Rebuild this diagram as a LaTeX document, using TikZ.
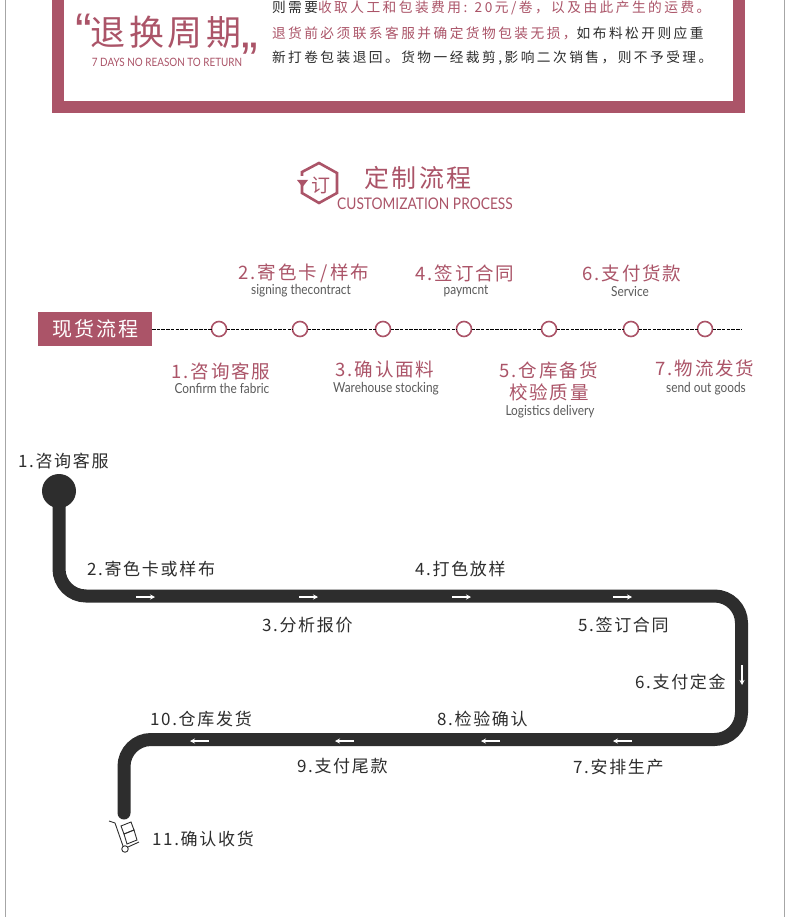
\documentclass[tikz,border=0pt]{standalone}
\usepackage{fontspec}
\usetikzlibrary{arrows.meta}
\newfontfamily\cjk[LetterSpace=10]{Noto Sans CJK SC}
\newfontfamily\cjkwide[LetterSpace=18]{Noto Sans CJK SC}
\newfontfamily\cjkplain{Noto Sans CJK SC}
\newfontfamily\latinfont[FakeStretch=0.86]{Lato}
\newfontfamily\quotefont{Liberation Sans}
\definecolor{rose}{HTML}{AB5468}
\definecolor{ink}{HTML}{2D2D2D}
\definecolor{softgrey}{HTML}{5A5A5A}
\newcommand{\zh}[1]{\fontsize{#1}{#1}\selectfont\cjk}
\newcommand{\en}[1]{\fontsize{#1}{#1}\selectfont\latinfont}
\begin{document}
\begin{tikzpicture}[
        x=1pt, y=-1pt,
        every node/.style={inner sep=0pt, outer sep=0pt},
        stepdot/.style={circle, draw=rose, line width=1.6pt, fill=white, minimum size=15pt},
        dashline/.style={dashed, dash pattern=on 3.5pt off 1.2pt, line width=0.8pt, black},
        stephead/.style={rose, font=\zh{18.5}},
        stepnote/.style={softgrey, font=\en{13.8}},
        flowlabel/.style={anchor=west, ink, font=\zh{17}},
        flowline/.style={ink, line width=13pt, rounded corners=27pt, line cap=round},
        whitearrow/.style={-{Stealth[length=5pt, width=5pt]}, white, line width=1.3pt},
        bodyline/.style={anchor=west, font=\fontsize{13.7}{13.7}\selectfont\cjkwide}
    ]
        \useasboundingbox (0,0) rectangle (790,917);
        \fill[white] (0,0) rectangle (790,917);
        \draw[gray!70, line width=1.5pt] (5.5,0) -- (5.5,917);
        \draw[gray!70, line width=1.5pt] (784.5,0) -- (784.5,917);

        % Return policy frame
        \fill[rose] (52,0) rectangle (745,113);
        \fill[white] (64,0) rectangle (733,101);
        \node[rose, font=\fontsize{50}{50}\selectfont\quotefont] (quoteopen) at (84,31) {“};
        \node[rose, font=\fontsize{35}{35}\selectfont\cjk] (cycle) at (166,32) {退换周期};
        \node[rose, font=\fontsize{50}{50}\selectfont\quotefont] (quoteclose) at (250,60) {”};
        \node[rose, font=\en{11.5}] (cyclenote) at (167,62) {7 DAYS NO REASON TO RETURN};
        \node[bodyline] (bodya) at (272,8) {\color{ink}则需要\color{rose}收取人工和包装费用: 20元/卷，以及由此产生的运费。};
        \node[bodyline] (bodyb) at (272,33) {\color{rose}退货前必须联系客服并确定货物包装无损，\color{ink}如布料松开则应重};
        \node[bodyline, ink] (bodyc) at (272,58) {新打卷包装退回。货物一经裁剪,影响二次销售，则不予受理。};

        % Title
        \draw[rose, line width=2.6pt, line join=miter] (302,176) -- (302,172) -- (319,163) -- (337,173) -- (337,193) -- (319,203) -- (302,193) -- (302,184);
        \fill[rose] (297,180) -- (308,180) -- (302.5,187) -- cycle;
        \node[rose, font=\fontsize{19}{19}\selectfont\cjkplain] (seal) at (321,185) {订};
        \node[rose, font=\zh{25}] (title) at (418,178) {定制流程};
        \node[rose, font=\en{16}] (subtitle) at (425,204) {CUSTOMIZATION PROCESS};

        % Stock process
        \node[fill=rose, text=white, minimum width=114pt, minimum height=34pt, font=\zh{20}] (stockbox) at (95,329) {现货流程};
        \node[stepdot] (dota) at (219,329) {};
        \node[stepdot] (dotb) at (300,329) {};
        \node[stepdot] (dotc) at (383,329) {};
        \node[stepdot] (dotd) at (464,329) {};
        \node[stepdot] (dote) at (549,329) {};
        \node[stepdot] (dotf) at (631,329) {};
        \node[stepdot] (dotg) at (705,329) {};
        \coordinate (stockend) at (741,329);
        \draw[dashline] (stockbox) -- (dota);
        \draw[dashline] (dota) -- (dotb);
        \draw[dashline] (dotb) -- (dotc);
        \draw[dashline] (dotc) -- (dotd);
        \draw[dashline] (dotd) -- (dote);
        \draw[dashline] (dote) -- (dotf);
        \draw[dashline] (dotf) -- (dotg);
        \draw[dashline] (dotg) -- (stockend);

        \node[stephead] (heada) at (221,371) {1.咨询客服};
        \node[stepnote] (notea) at (222,388) {Confirm the fabric};
        \node[stephead] (headb) at (304,273) {2.寄色卡\,/\,样布};
        \node[stepnote] (noteb) at (301,291) {signing thecontract};
        \node[stephead] (headc) at (385,369) {3.确认面料};
        \node[stepnote] (notec) at (386,389) {Warehouse stocking};
        \node[stephead] (headd) at (465,273) {4.签订合同};
        \node[stepnote] (noted) at (466,291) {paymcnt};
        \node[stephead] (heade) at (549,370) {5.仓库备货};
        \node[stephead] (headee) at (549,392) {校验质量};
        \node[stepnote] (notee) at (550,412) {Logistics delivery};
        \node[stephead] (headf) at (632,273) {6.支付货款};
        \node[stepnote] (notef) at (630,292) {Service};
        \node[stephead] (headg) at (705,368) {7.物流发货};
        \node[stepnote] (noteg) at (706,389) {send out goods};

        % Custom process
        \node[circle, fill=ink, minimum size=34pt] (startdot) at (59,491) {};
        \coordinate (turna) at (59,596);
        \coordinate (turnb) at (741.5,596);
        \coordinate (turnc) at (741.5,739.5);
        \coordinate (turnd) at (124,739.5);
        \coordinate (flowend) at (124,813);
        \draw[flowline] (startdot.center) -- (turna) -- (turnb) -- (turnc) -- (turnd) -- (flowend);

        \foreach \x in {136,299,452,613} {
            \coordinate (east\x) at (\x,597);
            \draw[whitearrow] (east\x) -- ++(19,0);
        }
        \foreach \x in {632,500,354,209} {
            \coordinate (west\x) at (\x,741);
            \draw[whitearrow] (west\x) -- ++(-19,0);
        }
        \coordinate (southarrow) at (742,665);
        \draw[whitearrow] (southarrow) -- ++(0,20);

        \node[flowlabel] (flowa) at (18,461) {1.咨询客服};
        \node[flowlabel] (flowb) at (87,569) {2.寄色卡或样布};
        \node[flowlabel] (flowc) at (262,625) {3.分析报价};
        \node[flowlabel] (flowd) at (415,569) {4.打色放样};
        \node[flowlabel] (flowe) at (578,625) {5.签订合同};
        \node[flowlabel] (flowf) at (635,682) {6.支付定金};
        \node[flowlabel] (flowg) at (573,767) {7.安排生产};
        \node[flowlabel] (flowh) at (437,719) {8.检验确认};
        \node[flowlabel] (flowi) at (297,766) {9.支付尾款};
        \node[flowlabel] (flowj) at (150,719) {10.仓库发货};
        \node[flowlabel] (flowk) at (152,839) {11.确认收货};

        % Hand cart
        \draw[ink, line width=0.9pt] (109,821) -- (115,823) -- (123,846);
        \draw[ink, line width=0.9pt] (128,847) -- (139,842);
        \draw[ink, line width=0.9pt] (121,826) -- (131,822) -- (134,830) -- (124,834) -- cycle;
        \draw[ink, line width=0.9pt] (124,834) -- (134,830) -- (137,840) -- (127,844) -- cycle;
        \node[circle, draw=ink, line width=0.9pt, minimum size=6.5pt] (wheel) at (125,849) {};
    \end{tikzpicture}
\end{document}
